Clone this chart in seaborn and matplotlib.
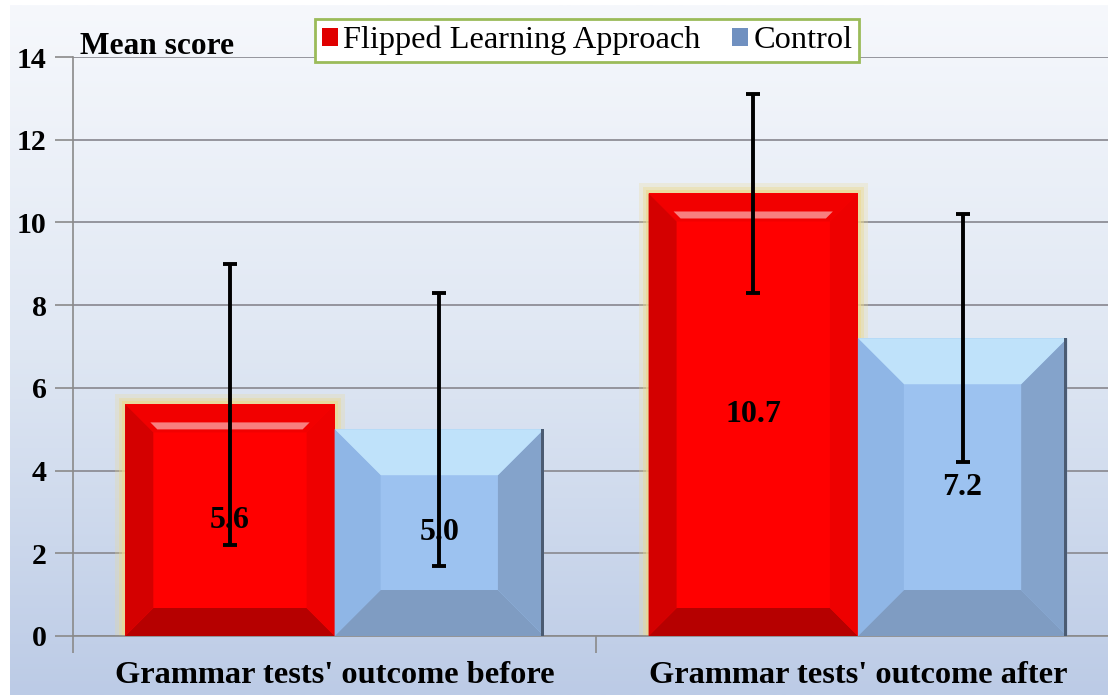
import numpy as np
import pandas as pd
import matplotlib
matplotlib.use("Agg")
import matplotlib.pyplot as plt
import seaborn as sns
from matplotlib.patches import Polygon, Patch
from matplotlib.colors import LinearSegmentedColormap

categories = ["Grammar tests' outcome before", "Grammar tests' outcome after"]
groups = ["Flipped Learning Approach", "Control"]
fla_mean = [5.6, 10.7]
ctrl_mean = [5.0, 7.2]
fla_sd = [3.4, 2.4]
ctrl_sd = [3.3, 3.0]
yticks = [0, 2, 4, 6, 8, 10, 12, 14]

sns.set_theme(style="white")
plt.rcParams["font.family"] = ["Liberation Serif", "DejaVu Serif"]
plt.rcParams["text.color"] = "black"

df = pd.DataFrame({
    "category": categories * 2,
    "group": [groups[0]] * 2 + [groups[1]] * 2,
    "mean": fla_mean + ctrl_mean,
    "sd": fla_sd + ctrl_sd,
})

W, H = 1108, 695
fig = plt.figure(figsize=(W / 100, H / 100), dpi=100)
fig.patch.set_facecolor("white")

# gradient background
bg = fig.add_axes([10 / W, 0, 1 - 10 / W, 1 - 5 / H], zorder=-10)
grad = np.linspace(0, 1, 256).reshape(-1, 1)
cmap = LinearSegmentedColormap.from_list("bg", ["#f6f8fc", "#dfe7f3", "#bccbe6"])
bg.imshow(grad, aspect="auto", cmap=cmap, extent=[0, 1, 0, 1], origin="upper")
bg.axis("off")

ax = fig.add_axes([73 / W, 59 / H, 1035 / W, 579 / H])
ax.patch.set_alpha(0)

sns.barplot(data=df, x="category", y="mean", hue="group", order=categories,
            hue_order=groups, palette=["#ff0000", "#9cc2f0"], width=0.8,
            errorbar=None, saturation=1, legend=False, edgecolor="none",
            linewidth=0, ax=ax, zorder=3)

ax.set_xlim(-0.5, 1.478)
ax.set_ylim(0, 14)
ax.set_yticks(yticks)
ax.set_yticklabels([str(v) for v in yticks], fontweight="bold", fontsize=21.5)
ax.set_xlabel("")
ax.set_ylabel("")
ax.yaxis.grid(True, color="#8e8e96", linewidth=1.3)
ax.set_axisbelow(True)
for s in ["top", "right"]:
    ax.spines[s].set_visible(False)
for s in ["left", "bottom"]:
    ax.spines[s].set_color("#8a8a8a")
    ax.spines[s].set_linewidth(1.2)
ax.tick_params(axis="y", length=13, color="#8a8a8a", width=1.2, pad=6,
               left=True, labelcolor="black")
ax.tick_params(axis="x", which="major", length=0, pad=18, labelcolor="black")
ax.set_xticks([-0.5, 0.5], minor=True)
ax.tick_params(axis="x", which="minor", length=12, color="#8a8a8a", width=1.2, bottom=True)
for lab in ax.get_xticklabels():
    lab.set_fontweight("bold")
    lab.set_fontsize(23.3)

T = ax.transData
Ti = T.inverted()


def to_data(pts):
    return Ti.transform(np.array(pts))


def bevel(patch, d, cols, z, highlight=None, edge=None):
    x0, y0 = patch.get_x(), patch.get_y()
    w, h = patch.get_width(), patch.get_height()
    (px0, py0) = T.transform((x0, y0))
    (px1, py1) = T.transform((x0 + w, y0 + h))
    dd = min(d, (px1 - px0) / 2 - 1, (py1 - py0) / 2 - 1)
    o = [(px0, py0), (px1, py0), (px1, py1), (px0, py1)]
    i = [(px0 + dd, py0 + dd), (px1 - dd, py0 + dd), (px1 - dd, py1 - dd), (px0 + dd, py1 - dd)]
    polys = {
        "bottom": [o[0], o[1], i[1], i[0]],
        "right": [o[1], o[2], i[2], i[1]],
        "top": [o[2], o[3], i[3], i[2]],
        "left": [o[3], o[0], i[0], i[3]],
    }
    for k, pts in polys.items():
        ax.add_patch(Polygon(to_data(pts), closed=True, facecolor=cols[k],
                             edgecolor="none", zorder=z))
    if highlight is not None:
        hh = 7
        pts = [(i[3][0] + 4, i[3][1] + 3), (i[2][0] - 4, i[2][1] + 3),
               (i[2][0] - 4 + hh, i[2][1] + 3 + hh), (i[3][0] + 4 - hh, i[3][1] + 3 + hh)]
        ax.add_patch(Polygon(to_data(pts), closed=True, facecolor=highlight,
                             alpha=0.5, edgecolor="none", zorder=z + 0.1))
    if edge is not None:
        pts = [(px1 - 3, py0), (px1, py0), (px1, py1), (px1 - 3, py1)]
        ax.add_patch(Polygon(to_data(pts), closed=True, facecolor=edge,
                             edgecolor="none", zorder=z + 0.1))


def glow(patch, z):
    x0, y0 = patch.get_x(), patch.get_y()
    w, h = patch.get_width(), patch.get_height()
    (px0, py0) = T.transform((x0, y0))
    (px1, py1) = T.transform((x0 + w, y0 + h))
    for g, a in [(10, 0.25), (6, 0.4), (3, 0.6)]:
        pts = [(px0 - g, py0), (px1 + g, py0), (px1 + g, py1 + g), (px0 - g, py1 + g)]
        ax.add_patch(Polygon(to_data(pts), closed=True, facecolor="#ecd98e",
                             alpha=a, edgecolor="none", zorder=z))


red_cols = {"top": "#f20000", "left": "#d40000", "right": "#ee0000", "bottom": "#b60000"}
blue_cols = {"top": "#bfe2fa", "left": "#8fb6e6", "right": "#84a3cb", "bottom": "#7f9cc2"}

means_by_group = [fla_mean, ctrl_mean]
sds_by_group = [fla_sd, ctrl_sd]
bar_containers = list(ax.containers)
for gi, cont in enumerate(bar_containers):
    for bi, p in enumerate(cont.patches):
        if gi == 0:
            glow(p, 2)
            bevel(p, 28, red_cols, 3.5, highlight="white")
        else:
            bevel(p, 46, blue_cols, 3.5, edge="#4b5b72")
        cx = p.get_x() + p.get_width() / 2
        ax.errorbar([cx], [means_by_group[gi][bi]], yerr=[sds_by_group[gi][bi]],
                    fmt="none", ecolor="black", elinewidth=2.8, capsize=5,
                    capthick=2.8, zorder=6)
        ax.text(cx, means_by_group[gi][bi] / 2, f"{means_by_group[gi][bi]:.1f}",
                ha="center", va="center", fontweight="bold", fontsize=23,
                color="black", zorder=5)

ax.text(7 / 1035, 1 + 3 / 579, "Mean score", transform=ax.transAxes,
        fontsize=22.6, fontweight="bold", va="baseline", ha="left", color="black")

handles = [Patch(facecolor="#e00000", edgecolor="none"),
           Patch(facecolor="#7090c0", edgecolor="none")]
leg = fig.legend(handles, groups, loc="center", bbox_to_anchor=(587 / W, 1 - 40.5 / H),
                 ncol=2, frameon=True, fancybox=False, edgecolor="#9bbb59",
                 fontsize=23.3, handlelength=0.5, handleheight=0.5,
                 handletextpad=0.15, columnspacing=1.0, borderpad=0.2,
                 labelcolor="black")
leg.get_frame().set_linewidth(2)
leg.get_frame().set_facecolor("white")
leg.get_frame().set_alpha(1)

fig.savefig("out.png", dpi=100)
